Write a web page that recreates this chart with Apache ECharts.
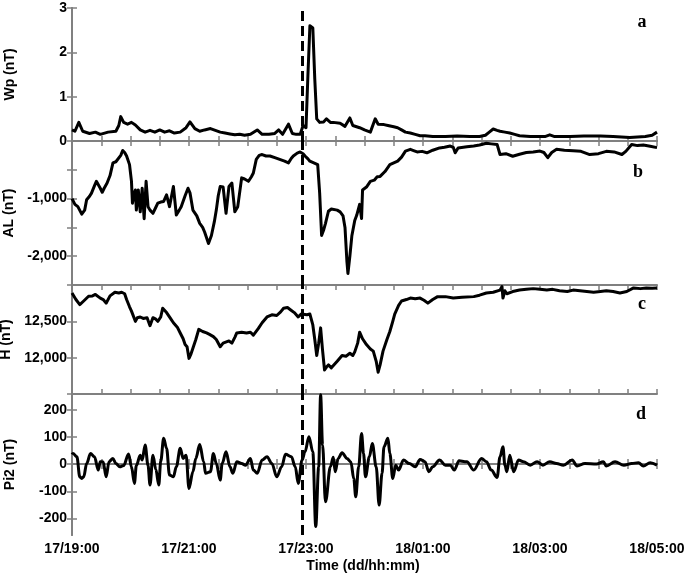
<!DOCTYPE html>
<html>
<head>
<meta charset="utf-8">
<script src="https://cdn.jsdelivr.net/npm/echarts@6/dist/echarts.min.js"></script>
<style>
html, body { margin: 0; padding: 0; background: #fff; }
#main { width: 685px; height: 575px; }
</style>
</head>
<body>
<div id="main"></div>
<script>
// x values are minutes after 17/19:00
var timeTicks = ['17/19:00', '17/21:00', '17/23:00', '18/01:00', '18/03:00', '18/05:00'];
var onsetMin = 236;

var panelNames = ['Wp (nT)', 'AL (nT)', 'H (nT)', 'Pi2 (nT)'];
var panelLetters = ['a', 'b', 'c', 'd'];

var wp = [[0,0.25],[3,0.22],[7,0.42],[11,0.22],[18,0.17],[24,0.2],[29,0.15],[37,0.2],[45,0.22],[48,0.35],[50,0.55],[53,0.42],[57,0.38],[61,0.42],[65,0.36],[70,0.25],[75,0.2],[80,0.24],[85,0.2],[90,0.25],[95,0.2],[100,0.23],[105,0.18],[111,0.2],[117,0.3],[121,0.43],[126,0.28],[131,0.22],[136,0.25],[142,0.28],[147,0.24],[152,0.2],[157,0.18],[162,0.16],[167,0.14],[172,0.15],[177,0.13],[183,0.15],[190,0.25],[195,0.15],[202,0.15],[208,0.17],[212,0.25],[216,0.15],[218,0.17],[222,0.38],[226,0.17],[230,0.15],[234,0.15],[237,0.35],[240,0.3],[242,1.5],[244,2.6],[247,2.55],[249,1.4],[251,0.5],[254,0.42],[258,0.43],[261,0.5],[265,0.42],[268,0.42],[275,0.4],[280,0.33],[285,0.52],[288,0.35],[295,0.3],[300,0.25],[306,0.2],[311,0.5],[314,0.38],[320,0.37],[324,0.35],[330,0.32],[334,0.3],[338,0.25],[342,0.2],[347,0.18],[352,0.15],[357,0.12],[362,0.12],[370,0.1],[383,0.1],[395,0.11],[408,0.1],[418,0.1],[424,0.13],[428,0.2],[432,0.27],[436,0.24],[439,0.22],[444,0.2],[449,0.18],[454,0.15],[459,0.12],[470,0.1],[480,0.1],[485,0.1],[490,0.14],[495,0.1],[511,0.1],[525,0.11],[542,0.11],[555,0.1],[572,0.08],[580,0.09],[588,0.1],[595,0.13],[600,0.2]];

var al = [[0,-1000],[3,-1100],[6,-1140],[10,-1270],[13,-1200],[15,-1020],[18,-960],[20,-905],[23,-780],[25,-700],[27,-730],[29,-820],[31,-890],[33,-820],[36,-730],[39,-600],[42,-380],[45,-360],[47,-350],[50,-250],[52,-165],[54,-200],[56,-260],[59,-410],[61,-700],[62,-1080],[64,-900],[65,-850],[66,-1200],[68,-850],[70,-1230],[72,-820],[74,-1350],[76,-700],[78,-1140],[80,-1200],[83,-1255],[86,-1150],[88,-1080],[91,-1060],[94,-1050],[97,-935],[100,-1140],[104,-790],[107,-1285],[110,-1200],[112,-1140],[116,-950],[119,-820],[121,-900],[124,-1200],[128,-1300],[131,-1430],[134,-1500],[136,-1580],[140,-1780],[143,-1640],[146,-1400],[148,-1200],[150,-950],[152,-790],[155,-800],[158,-1255],[161,-790],[164,-730],[167,-1230],[170,-1140],[174,-640],[177,-660],[181,-700],[184,-620],[186,-555],[189,-320],[192,-250],[195,-235],[199,-260],[203,-260],[208,-290],[213,-320],[218,-350],[222,-380],[225,-300],[227,-260],[231,-210],[234,-190],[237,-220],[239,-260],[242,-310],[244,-350],[248,-380],[252,-410],[254,-900],[256,-1640],[258,-1550],[260,-1430],[263,-1220],[266,-1180],[268,-1170],[272,-1200],[275,-1230],[278,-1300],[280,-1500],[282,-2100],[283,-2300],[285,-2000],[287,-1650],[290,-1380],[292,-1290],[295,-1100],[297,-1345],[298,-850],[302,-800],[306,-700],[310,-680],[313,-620],[316,-615],[321,-530],[326,-410],[330,-380],[334,-350],[338,-280],[342,-175],[347,-145],[351,-170],[354,-190],[359,-180],[364,-205],[370,-160],[377,-120],[382,-110],[388,-87],[391,-110],[393,-205],[396,-120],[398,-90],[405,-100],[412,-87],[418,-70],[425,-40],[430,-50],[436,-60],[439,-235],[445,-220],[452,-265],[459,-230],[466,-200],[473,-190],[480,-175],[484,-200],[488,-290],[492,-200],[497,-145],[505,-160],[514,-170],[522,-180],[531,-235],[540,-220],[548,-180],[556,-190],[564,-235],[568,-180],[574,-60],[580,-80],[586,-70],[593,-90],[600,-115]];

var hComp = [[0,12890],[4,12800],[8,12730],[12,12780],[17,12845],[21,12850],[24,12870],[29,12820],[32,12800],[35,12750],[39,12850],[44,12900],[48,12890],[51,12900],[54,12880],[56,12800],[59,12700],[61,12640],[65,12500],[67,12550],[70,12560],[73,12540],[77,12550],[80,12440],[83,12550],[86,12530],[88,12500],[91,12560],[93,12680],[97,12620],[101,12540],[104,12480],[108,12420],[111,12340],[114,12260],[116,12180],[118,12150],[120,11990],[122,12050],[124,12130],[127,12250],[130,12390],[134,12360],[138,12340],[141,12320],[145,12290],[148,12250],[152,12150],[155,12200],[157,12220],[161,12230],[164,12200],[167,12280],[169,12340],[174,12350],[179,12340],[183,12350],[186,12310],[191,12400],[195,12480],[200,12560],[205,12590],[210,12580],[214,12630],[217,12680],[221,12690],[224,12660],[228,12620],[232,12560],[235,12600],[237,12610],[241,12590],[244,12600],[247,12450],[249,12250],[251,12030],[253,12200],[255,12410],[257,12100],[259,11830],[261,11870],[263,11900],[266,11860],[268,11870],[272,11950],[277,12030],[281,12020],[285,12060],[288,12030],[290,12080],[293,12200],[295,12350],[298,12260],[302,12180],[306,12120],[309,12090],[312,11950],[314,11800],[316,11900],[319,12090],[323,12250],[326,12360],[329,12500],[331,12600],[335,12720],[338,12780],[343,12800],[347,12820],[352,12810],[357,12820],[361,12790],[365,12750],[370,12800],[375,12840],[383,12840],[391,12820],[400,12830],[412,12840],[418,12860],[425,12890],[432,12900],[439,12930],[441,12980],[442,12820],[444,12920],[446,12880],[452,12910],[459,12930],[466,12940],[473,12950],[480,12940],[487,12930],[493,12940],[500,12920],[508,12910],[514,12930],[521,12920],[528,12910],[535,12900],[542,12910],[548,12920],[555,12910],[562,12890],[569,12910],[576,12960],[583,12950],[589,12960],[595,12955],[600,12960]];

var pi2 = [[0,35],[1,39],[5,27],[8,-47],[10,-53],[12,-47],[15,2],[19,39],[23,27],[27,-22],[29,9],[32,8],[35,-47],[38,9],[42,21],[45,2],[49,-10],[53,-5],[58,37],[61,-10],[64,-71],[66,-5],[70,33],[72,15],[75,70],[78,-5],[80,-77],[83,33],[86,-20],[89,-77],[91,10],[94,95],[97,58],[100,-40],[104,-47],[107,-10],[111,58],[114,21],[117,33],[120,-90],[124,-28],[127,21],[131,72],[135,9],[137,-34],[142,-28],[145,39],[148,2],[152,-59],[154,2],[158,45],[162,-10],[165,-34],[169,9],[174,2],[178,-4],[183,21],[186,-22],[190,-34],[195,15],[200,27],[205,2],[210,-47],[215,-10],[219,36],[225,27],[229,-10],[232,-71],[236,15],[239,45],[243,101],[247,45],[250,-230],[253,-10],[255,255],[257,70],[260,-139],[265,-10],[268,25],[270,-28],[273,21],[277,42],[282,21],[286,8],[289,-53],[291,-120],[294,-10],[297,113],[299,39],[301,-47],[305,27],[308,76],[312,-10],[315,-151],[318,-34],[320,64],[324,95],[326,39],[329,-53],[332,-4],[335,-22],[340,15],[346,2],[352,-10],[357,17],[362,9],[366,-28],[370,-10],[377,15],[383,-4],[388,-4],[392,-22],[397,12],[403,9],[405,9],[412,-22],[420,21],[425,9],[430,-22],[436,-49],[439,27],[442,64],[444,-4],[446,-28],[449,33],[453,-28],[458,15],[463,9],[470,-4],[477,9],[483,-4],[490,9],[497,2],[504,-4],[513,15],[518,-7],[526,2],[538,0],[545,9],[548,-7],[557,9],[566,-4],[574,2],[581,5],[586,-7],[593,5],[600,-4]];

var panelData = [wp, al, hComp, pi2];
var panelSmooth = [false, false, false, 0.35];

var FONT = 'Liberation Sans, Arial, sans-serif';
var GRAY = '#808080';

function fmt(v) {
	return v.toLocaleString('en-US');
}

var grids = [
	{ left: 72, right: 28, top: 8, height: 133, outerBoundsMode: 'none' },
	{ left: 72, right: 28, top: 141, height: 144, outerBoundsMode: 'none' },
	{ left: 72, right: 28, top: 285, height: 109, outerBoundsMode: 'none' },
	{ left: 72, right: 28, top: 394, height: 141, outerBoundsMode: 'none' }
];

var yScales = [
	{ min: 0, max: 3, interval: 1, label: function (v) { return String(v); } },
	{ min: -2500, max: 0, interval: 500, label: function (v) { return (v !== 0 && v % 1000 === 0) ? fmt(v) : ''; } },
	{ min: 11500, max: 13000, interval: 500, label: function (v) { return (v === 12000 || v === 12500) ? fmt(v) : ''; } },
	{ min: -261, max: 258, custom: [-200, -100, 0, 100, 200], label: function (v) { return String(v); } }
];

var axisLine = { show: true, lineStyle: { color: GRAY, width: 2 } };
var axisTick = { show: true, inside: true, length: 5, lineStyle: { color: GRAY, width: 1.5 } };

var xAxes = [];
var yAxes = [];
var series = [];

for (let i = 0; i < 4; i++) {
	let last = (i === 3);
	xAxes.push({
		type: 'value', gridIndex: i, position: 'bottom',
		min: 0, max: 600, interval: 30,
		axisLine: axisLine, axisTick: axisTick, splitLine: { show: false },
		axisLabel: {
			show: last, margin: 7, color: '#000', fontFamily: FONT, fontWeight: 'bold', fontSize: 14,
			formatter: function (v) { return v % 120 === 0 ? timeTicks[v / 120] : ''; }
		}
	});
	xAxes.push({
		type: 'value', gridIndex: i, position: 'top',
		min: 0, max: 600, interval: 30,
		axisLine: axisLine, axisTick: axisTick, splitLine: { show: false },
		axisLabel: { show: false }
	});

	let s = yScales[i];
	let yTick = Object.assign({}, axisTick);
	let yLabel = {
		margin: 5, color: '#000', fontFamily: FONT, fontWeight: 'bold', fontSize: 14,
		formatter: s.label
	};
	if (s.custom) {
		yTick.customValues = s.custom;
		yLabel.customValues = s.custom;
	}
	let yLeft = {
		type: 'value', gridIndex: i, position: 'left',
		min: s.min, max: s.max,
		axisLine: axisLine, axisTick: yTick, axisLabel: yLabel, splitLine: { show: false },
		name: panelNames[i], nameLocation: 'middle', nameGap: 55,
		nameTextStyle: { color: '#000', fontFamily: FONT, fontWeight: 'bold', fontSize: 14 }
	};
	let yRight = {
		type: 'value', gridIndex: i, position: 'right',
		min: s.min, max: s.max,
		axisLine: axisLine, axisTick: yTick, axisLabel: { show: false, customValues: s.custom }, splitLine: { show: false }
	};
	if (s.interval) {
		yLeft.interval = s.interval;
		yRight.interval = s.interval;
	}
	yAxes.push(yLeft, yRight);

	series.push({
		type: 'line',
		xAxisIndex: 2 * i,
		yAxisIndex: 2 * i,
		data: panelData[i],
		showSymbol: false,
		symbol: 'none',
		smooth: panelSmooth[i],
		smoothMonotone: 'x',
		clip: true,
		lineStyle: { color: '#000', width: 3, join: 'round' },
		markLine: {
			silent: true,
			symbol: 'none',
			animation: false,
			label: { show: false },
			lineStyle: { color: '#000', width: 3, type: [10, 5] },
			data: [{ xAxis: onsetMin }]
		}
	});
}

var letterPos = [[642, 22], [638, 172], [642, 304], [641, 414]];
var graphics = panelLetters.map(function (l, i) {
	return {
		type: 'text', x: letterPos[i][0], y: letterPos[i][1],
		style: { text: l, fill: '#000', font: 'bold 18px "Liberation Serif", "Times New Roman", serif', align: 'center', verticalAlign: 'middle' }
	};
});
graphics.push({
	type: 'text', x: 363, y: 566,
	style: { text: 'Time (dd/hh:mm)', fill: '#000', font: 'bold 14px ' + FONT, align: 'center', verticalAlign: 'middle' }
});

var chart = echarts.init(document.getElementById('main'), null, { renderer: 'canvas' });
chart.setOption({
	animation: false,
	backgroundColor: '#fff',
	grid: grids,
	xAxis: xAxes,
	yAxis: yAxes,
	series: series,
	graphic: graphics
});
</script>
</body>
</html>
